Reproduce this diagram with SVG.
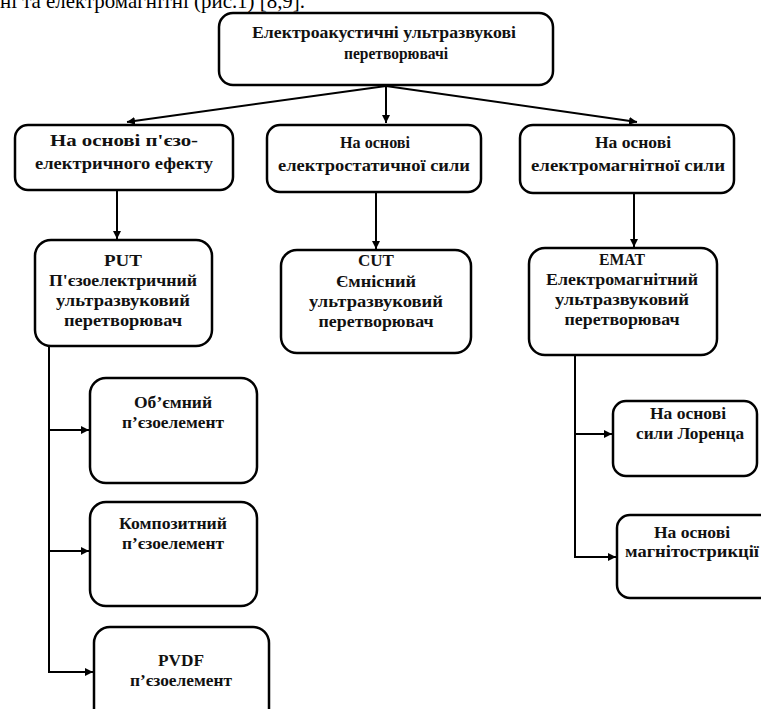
<svg xmlns="http://www.w3.org/2000/svg" width="761" height="709" viewBox="0 0 761 709">
<defs>
<marker id="ah" viewBox="0 0 10 10" refX="10" refY="5" markerWidth="8" markerHeight="8" markerUnits="userSpaceOnUse" orient="auto">
<path d="M0,0 L10,5 L0,10 z" fill="#000"/>
</marker>
<style>
.box{fill:#fff;stroke:#000;stroke-width:2.5}
.t{font-family:"Liberation Serif","Times New Roman",serif;font-weight:bold;font-size:17px;text-anchor:middle;fill:#111}
.c{fill:none;stroke:#000;stroke-width:2;marker-end:url(#ah)}
.l{fill:none;stroke:#000;stroke-width:2}
.p{font-family:"Liberation Serif","Times New Roman",serif;font-size:21px;fill:#000}
</style>
</defs>
<rect width="761" height="709" fill="#fff"/>
<text class="p" x="0" y="8" textLength="305" lengthAdjust="spacingAndGlyphs">ні та електромагнітні (рис.1) [8,9].</text>

<g id="connectors">
<line class="c" x1="386" y1="86" x2="386" y2="123"/>
<line class="c" x1="386" y1="86" x2="127" y2="122"/>
<line class="c" x1="386" y1="86" x2="637" y2="122"/>
<line class="c" x1="117" y1="190" x2="117" y2="239"/>
<line class="c" x1="376" y1="192" x2="376" y2="249"/>
<line class="c" x1="634" y1="193" x2="634" y2="247"/>
<polyline class="l" points="49,346 49,672"/>
<line class="c" x1="48" y1="430" x2="89" y2="430"/>
<line class="c" x1="48" y1="551" x2="89" y2="551"/>
<line class="c" x1="48" y1="672" x2="93" y2="672"/>
<polyline class="l" points="575,355 575,557"/>
<line class="c" x1="574" y1="434" x2="612" y2="434"/>
<line class="c" x1="574" y1="557" x2="616" y2="557"/>
</g>

<g id="root">
<rect class="box" x="219" y="13" width="334" height="72" rx="14"/>
<text class="t" x="384" y="38" textLength="264" lengthAdjust="spacingAndGlyphs">Електроакустичні ультразвукові</text>
<text class="t" x="396" y="59" textLength="104" lengthAdjust="spacingAndGlyphs">перетворювачі</text>
</g>

<g id="piezo">
<rect class="box" x="15" y="125" width="218" height="65" rx="13"/>
<text class="t" x="124" y="146" textLength="148" lengthAdjust="spacingAndGlyphs">На основі п'єзо-</text>
<text class="t" x="124" y="169" textLength="178" lengthAdjust="spacingAndGlyphs">електричного ефекту</text>
</g>

<g id="electrostatic">
<rect class="box" x="267" y="125" width="214" height="67" rx="13"/>
<text class="t" x="375" y="148" textLength="70" lengthAdjust="spacingAndGlyphs">На основі</text>
<text class="t" x="374" y="171" textLength="192" lengthAdjust="spacingAndGlyphs">електростатичної сили</text>
</g>

<g id="electromagnetic">
<rect class="box" x="520" y="125" width="214" height="68" rx="13"/>
<text class="t" x="633" y="148" textLength="76" lengthAdjust="spacingAndGlyphs">На основі</text>
<text class="t" x="628" y="171" textLength="194" lengthAdjust="spacingAndGlyphs">електромагнітної сили</text>
</g>

<g id="put">
<rect class="box" x="35" y="240" width="177" height="106" rx="16"/>
<text class="t" x="123" y="266" textLength="38" lengthAdjust="spacingAndGlyphs">PUT</text>
<text class="t" x="123" y="286" textLength="148" lengthAdjust="spacingAndGlyphs">П'єзоелектричний</text>
<text class="t" x="123" y="306" textLength="134" lengthAdjust="spacingAndGlyphs">ультразвуковий</text>
<text class="t" x="123" y="326" textLength="118" lengthAdjust="spacingAndGlyphs">перетворювач</text>
</g>

<g id="cut">
<rect class="box" x="281" y="250" width="190" height="103" rx="16"/>
<text class="t" x="376" y="266" textLength="36" lengthAdjust="spacingAndGlyphs">CUT</text>
<text class="t" x="376" y="287" textLength="80" lengthAdjust="spacingAndGlyphs">Ємнісний</text>
<text class="t" x="376" y="307" textLength="134" lengthAdjust="spacingAndGlyphs">ультразвуковий</text>
<text class="t" x="376" y="327" textLength="115" lengthAdjust="spacingAndGlyphs">перетворювач</text>
</g>

<g id="emat">
<rect class="box" x="529" y="248" width="188" height="107" rx="16"/>
<text class="t" x="622" y="265" textLength="46" lengthAdjust="spacingAndGlyphs">EMAT</text>
<text class="t" x="622" y="285" textLength="152" lengthAdjust="spacingAndGlyphs">Електромагнітний</text>
<text class="t" x="622" y="305" textLength="134" lengthAdjust="spacingAndGlyphs">ультразвуковий</text>
<text class="t" x="622" y="325" textLength="115" lengthAdjust="spacingAndGlyphs">перетворювач</text>
</g>

<g id="bulk">
<rect class="box" x="90" y="378" width="167" height="105" rx="16"/>
<text class="t" x="173" y="408" textLength="78" lengthAdjust="spacingAndGlyphs">Об’ємний</text>
<text class="t" x="173" y="428" textLength="102" lengthAdjust="spacingAndGlyphs">п’єзоелемент</text>
</g>

<g id="composite">
<rect class="box" x="90" y="502" width="167" height="104" rx="16"/>
<text class="t" x="173" y="529" textLength="108" lengthAdjust="spacingAndGlyphs">Композитний</text>
<text class="t" x="173" y="549" textLength="102" lengthAdjust="spacingAndGlyphs">п’єзоелемент</text>
</g>

<g id="pvdf">
<rect class="box" x="94" y="627" width="175" height="100" rx="16"/>
<text class="t" x="181" y="666" textLength="46" lengthAdjust="spacingAndGlyphs">PVDF</text>
<text class="t" x="181" y="686" textLength="102" lengthAdjust="spacingAndGlyphs">п’єзоелемент</text>
</g>

<g id="lorentz">
<rect class="box" x="613" y="401" width="144" height="75" rx="13"/>
<text class="t" x="688" y="419" textLength="76" lengthAdjust="spacingAndGlyphs">На основі</text>
<text class="t" x="690" y="439" textLength="108" lengthAdjust="spacingAndGlyphs">сили Лоренца</text>
</g>

<g id="magnetostriction">
<rect class="box" x="617" y="515" width="160" height="83" rx="13"/>
<text class="t" x="692" y="538" textLength="76" lengthAdjust="spacingAndGlyphs">На основі</text>
<text class="t" x="692" y="557" textLength="134" lengthAdjust="spacingAndGlyphs">магнітострикції</text>
</g>
</svg>
